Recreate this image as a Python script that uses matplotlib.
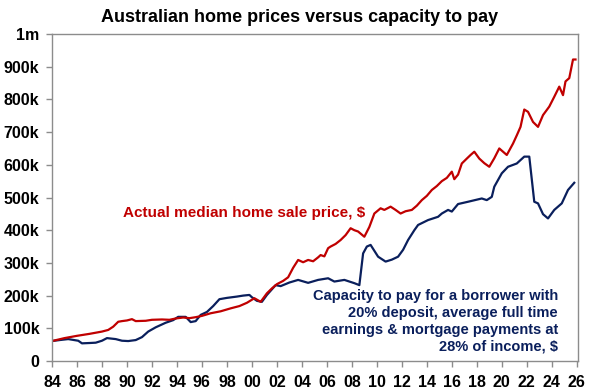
import matplotlib
matplotlib.use("Agg")
import matplotlib.pyplot as plt

price_years = [1984.0, 1985.0, 1986.0, 1987.0, 1988.0, 1988.5, 1988.9, 1989.3, 1989.6, 1990.0,
               1990.4, 1990.7, 1991.5, 1992.0, 1992.8, 1993.4, 1993.9, 1994.5, 1995.0, 1995.5,
               1996.0, 1996.7, 1997.5, 1998.3, 1999.0, 1999.6, 2000.2, 2000.7, 2001.2, 2001.6,
               2002.0, 2002.5, 2002.9, 2003.3, 2003.7, 2004.1, 2004.5, 2004.9, 2005.3, 2005.5,
               2005.8, 2006.1, 2006.3, 2006.7, 2007.1, 2007.5, 2007.9, 2008.2, 2008.5, 2009.0,
               2009.4, 2009.8, 2010.3, 2010.6, 2011.1, 2011.5, 2011.9, 2012.3, 2012.8, 2013.2,
               2013.6, 2014.0, 2014.4, 2014.8, 2015.2, 2015.6, 2016.0, 2016.2, 2016.5, 2016.8,
               2017.2, 2017.5, 2017.8, 2018.2, 2018.6, 2019.0, 2019.4, 2019.8, 2020.1, 2020.4,
               2020.9, 2021.2, 2021.5, 2021.8, 2022.1, 2022.5, 2022.9, 2023.3, 2023.8, 2024.2,
               2024.6, 2024.9, 2025.1, 2025.4, 2025.7, 2025.9]
price_k = [61, 70, 77, 83, 90, 95, 105, 120, 122, 124,
           128, 122, 123, 126, 127, 126, 130, 133, 131, 134,
           138, 146, 152, 161, 168, 178, 192, 181, 207, 222,
           235, 245, 256, 285, 309, 302, 309, 305, 317, 324,
           320, 345, 350, 358, 370, 385, 406, 400, 396, 380,
           410, 451, 467, 462, 472, 462, 451, 458, 462, 475,
           492, 505, 523, 535, 550, 560, 579, 556, 570, 604,
           619, 630, 640, 619, 605, 594, 620, 650, 640, 630,
           665, 690, 716, 769, 762, 731, 716, 752, 778, 808,
           839, 813, 855, 865, 922, 922]

cap_years = [1984.0, 1984.6, 1985.3, 1986.1, 1986.4, 1987.0, 1987.5, 1988.0, 1988.4, 1989.1,
             1989.6, 1990.1, 1990.7, 1991.2, 1991.7, 1992.3, 1993.1, 1993.7, 1994.1, 1994.7,
             1995.1, 1995.5, 1995.9, 1996.4, 1996.9, 1997.4, 1998.0, 1998.8, 1999.3, 1999.8,
             2000.0, 2000.4, 2000.8, 2001.2, 2001.9, 2002.3, 2003.0, 2003.7, 2004.5, 2005.3,
             2006.1, 2006.6, 2007.4, 2008.2, 2008.6, 2008.9, 2009.2, 2009.5, 2010.1, 2010.7,
             2011.2, 2011.7, 2012.1, 2012.5, 2013.0, 2013.3, 2014.1, 2014.9, 2015.2, 2015.7,
             2016.0, 2016.5, 2017.3, 2018.4, 2018.8, 2019.2, 2019.4, 2020.0, 2020.5, 2021.2,
             2021.8, 2022.2, 2022.6, 2022.9, 2023.3, 2023.7, 2024.2, 2024.8, 2025.3, 2025.8]
cap_k = [61, 64, 67, 62, 54, 55, 56, 62, 70, 67,
         62, 61, 64, 73, 90, 103, 117, 125, 135, 135,
         119, 122, 141, 150, 168, 189, 193, 197, 200, 202,
         195, 184, 181, 202, 232, 229, 240, 248, 239, 248,
         253, 243, 248, 238, 232, 329, 350, 355, 319, 304,
         310, 319, 340, 370, 400, 416, 431, 441, 451, 462,
         457, 480, 487, 497, 492, 502, 533, 574, 594, 604,
         625, 625, 487, 482, 449, 436, 462, 482, 523, 545]

x_ticks = list(range(1984, 2027, 2))
x_labels = ["%02d" % (y % 100) for y in x_ticks]
y_ticks = [0, 100, 200, 300, 400, 500, 600, 700, 800, 900, 1000]
y_labels = ["0", "100k", "200k", "300k", "400k", "500k", "600k", "700k", "800k", "900k", "1m"]

title = "Australian home prices versus capacity to pay"
price_label = "Actual median home sale price, $"
cap_label = ("Capacity to pay for a borrower with\n20% deposit, average full time\n"
             "earnings & mortgage payments at\n28% of income, $")

RED = "#C00000"
NAVY = "#0A1F5C"

plt.rcParams['font.family'] = ['Liberation Sans', 'DejaVu Sans']

fig = plt.figure(figsize=(6.0, 3.91), dpi=100)
ax = fig.add_axes([52/600, 30/391, (578-52)/600, (361-34)/391])

ax.plot(cap_years, cap_k, color=NAVY, lw=1.6, solid_joinstyle='round')
ax.plot(price_years, price_k, color=RED, lw=1.6, solid_joinstyle='round')

ax.set_xlim(1984, 2026.1)
ax.set_ylim(0, 1000)
ax.set_xticks(x_ticks)
ax.set_xticklabels(x_labels)
ax.set_yticks(y_ticks)
ax.set_yticklabels(y_labels)

for s in ax.spines.values():
    s.set_color("#8C8C8C")
    s.set_linewidth(1.0)

ax.tick_params(axis='both', colors="#8C8C8C", labelcolor="black", labelsize=11.5, width=1.0)
ax.tick_params(axis='x', length=4, pad=6)
ax.tick_params(axis='y', length=4, pad=5)
for lab in ax.get_xticklabels() + ax.get_yticklabels():
    lab.set_fontweight('bold')

ax.text(1999.4, 453, price_label, color=RED, fontsize=11, fontweight='bold',
        ha='center', va='center')
ax.text(2024.5, 122, cap_label, color=NAVY, fontsize=10.5, fontweight='bold',
        ha='right', va='center', linespacing=1.27, multialignment='right')

fig.text(0.5, 1 - 18/391, title, ha='center', va='center', fontsize=13, fontweight='bold')

fig.savefig("out.png", dpi=100)
